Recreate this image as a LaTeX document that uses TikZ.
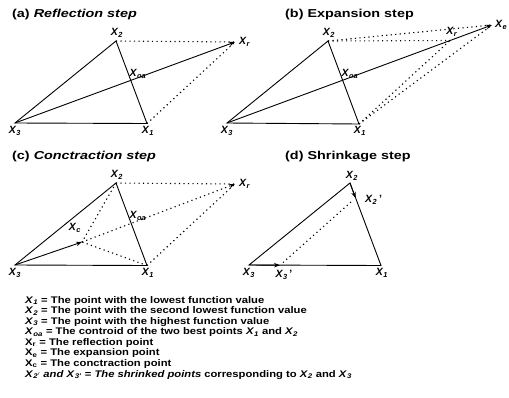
\documentclass[tikz,border=0pt]{standalone}
\usepackage{fontspec}
\setmainfont{Liberation Sans}
\newfontfamily\titlefont[FakeStretch=1.25]{Liberation Sans}
\newfontfamily\legfont[FakeStretch=1.17]{Liberation Sans}
\usetikzlibrary{arrows.meta,calc}
\newcommand\XL[1]{\textit{X}\textsubscript{\textit{#1}}}
\newcommand\XU[1]{X\textsubscript{#1}}
\begin{document}
\begin{tikzpicture}[x=1pt,y=-1pt,
  edge/.style={line width=0.9pt},
  dots/.style={line width=1.1pt, dash pattern=on 1.2pt off 3.3pt},
  arr/.style={-{Stealth[length=6pt,width=4.5pt]}},
  lbl/.style={font=\fontsize{10.5}{10.5}\selectfont\bfseries, inner sep=0pt},
  ttl/.style={font=\titlefont\fontsize{11.5}{12}\selectfont\bfseries, anchor=west, inner sep=0pt},
  leg/.style={font=\legfont\fontsize{9.6}{9.6}\selectfont\bfseries, anchor=west, inner sep=0pt}]
\useasboundingbox (0,0) rectangle (509,397);

% ---------- (a) Reflection step ----------
\node[ttl] (ta) at (12,15) {(a) \textit{Reflection step}};
\coordinate (a3) at (15,123);
\coordinate (a2) at (116,41);
\coordinate (a1) at (147,123.5);
\coordinate (ar) at (235,42);
\draw[edge] (a3) -- (a2) -- (a1) -- cycle;
\draw[edge,arr] (a3) -- (ar);
\draw[dots] (a2) -- (ar);
\draw[dots] (a1) -- (ar);
\node[lbl] (la2) at (117,33) {\XL{2}};
\node[lbl] (la1) at (148,131) {\XL{1}};
\node[lbl] (la3) at (15,131) {\XL{3}};
\node[lbl,anchor=west] (lar) at (239,42) {\XL{r}};
\node[lbl] (lao) at (138,74) {\XL{oa}};

% ---------- (b) Expansion step ----------
\node[ttl] (tb) at (285,15) {(b) Expansion step};
\coordinate (b3) at (227,123);
\coordinate (b2) at (328,41);
\coordinate (b1) at (359,124);
\coordinate (br) at (450,40.5);
\coordinate (be) at (492,25);
\draw[edge] (b3) -- (b2) -- (b1) -- cycle;
\draw[edge,arr] (b3) -- (be);
\draw[dots] (b2) -- (br);
\draw[dots] (b2) -- (be);
\draw[dots] (b1) -- (br);
\draw[dots] (b1) -- (be);
\node[lbl] (lb2) at (329,33) {\XL{2}};
\node[lbl] (lb1) at (360,131) {\XL{1}};
\node[lbl] (lb3) at (227,131) {\XL{3}};
\node[lbl] (lbr) at (452,32) {\XL{r}};
\node[lbl,anchor=west] (lbe) at (495,25) {\XL{e}};
\node[lbl] (lbo) at (350,74) {\XL{oa}};

% ---------- (c) Conctraction step ----------
\node[ttl] (tc) at (12,157) {(c) \textit{Conctraction step}};
\coordinate (c3) at (15,265);
\coordinate (c2) at (116,183);
\coordinate (c1) at (147,265.5);
\coordinate (cr) at (235,184);
\coordinate (cc) at (82,242);
\draw[edge] (c3) -- (c2) -- (c1) -- cycle;
\draw[edge,arr] (c3) -- (cc);
\draw[dots,arr] (cc) -- (cr);
\draw[dots] (c2) -- (cr);
\draw[dots] (c1) -- (cr);
\draw[dots] (c2) -- (cc);
\draw[dots] (c1) -- (cc);
\node[lbl] (lc2) at (117,175) {\XL{2}};
\node[lbl] (lc1) at (148,273) {\XL{1}};
\node[lbl] (lc3) at (15,273) {\XL{3}};
\node[lbl,anchor=west] (lcr) at (239,184) {\XL{r}};
\node[lbl] (lco) at (138,216) {\XL{oa}};
\node[lbl] (lcc) at (75,228) {\XL{c}};

% ---------- (d) Shrinkage step ----------
\node[ttl] (td) at (285,157) {(d) Shrinkage step};
\coordinate (d3) at (249,265);
\coordinate (d2) at (350,183);
\coordinate (d1) at (381,265.5);
\coordinate (dp2) at (355.5,198);
\coordinate (dp3) at (280,265.2);
\draw[edge] (d3) -- (d2) -- (d1) -- cycle;
\draw[edge,arr] (d2) -- (dp2);
\draw[edge,arr] (d3) -- (dp3);
\draw[dots,shorten <=6pt,shorten >=4pt] (dp2) -- (dp3);
\node[lbl] (ld2) at (352,176) {\XL{2}};
\node[lbl,anchor=west] (ldp2) at (365,200) {\XL{2}\,'};
\node[lbl] (ld1) at (382,273) {\XL{1}};
\node[lbl] (ld3) at (249,273) {\XL{3}};
\node[lbl] (ldp3) at (284,275) {\XL{3}\,'};

% ---------- legend ----------
\node[leg] (g1) at (25,301) {\XL{1} = The point with the lowest function value};
\node[leg] (g2) at (25,311.5) {\XL{2} = The point with the second lowest function value};
\node[leg] (g3) at (25,322) {\XL{3} = The point with the highest function value};
\node[leg] (g4) at (25,332.5) {\XL{oa} = The controid of the two best points \XL{1} and \XL{2}};
\node[leg] (g5) at (25,343) {\XU{r} = The reflection point};
\node[leg] (g6) at (25,353.5) {\XU{e} = The expansion point};
\node[leg] (g7) at (25,364) {\XU{c} = The conctraction point};
\node[leg] (g8) at (25,375) {\textit{X}\textsubscript{\textit{2}}\kern-0.5pt\raisebox{-0.3ex}{\scriptsize$'$} \textit{and} \XL{3'} = \textit{The shrinked points} corresponding to \XL{2} and \XL{3}};
\end{tikzpicture}
\end{document}
